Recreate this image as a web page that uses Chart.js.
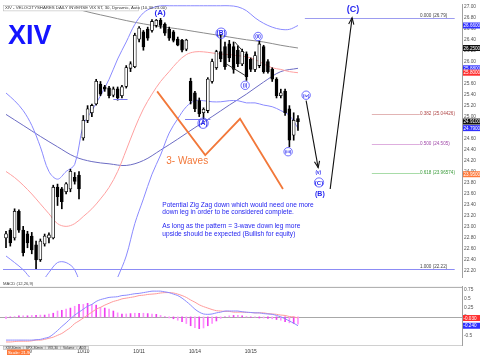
<!DOCTYPE html>
<html><head><meta charset="utf-8">
<script src="https://cdn.jsdelivr.net/npm/chart.js@4.4.1/dist/chart.umd.min.js"></script>
<style>
html,body{margin:0;padding:0;background:#fff;}
#wrap{position:relative;width:480px;height:358px;overflow:hidden;background:#fff}
canvas{position:absolute;left:0}
#c1{top:0}
#c2{top:282px}
</style></head><body>
<div id="wrap"><canvas id="c1" width="480" height="282"></canvas><canvas id="c2" width="480" height="76"></canvas></div>
<script>
// ---------- data (30-minute bars, index = bar number) ----------
const dayTicks  = [5, 18, 31, 44, 57];
const dayLabels = ['10/9', '10/10', '10/11', '10/14', '10/15'];
const priceTicks = [22.2,22.4,22.6,22.8,23.0,23.2,23.4,23.6,23.8,24.0,24.2,24.4,24.6,24.8,25.0,25.2,25.4,25.6,25.8,26.0,26.2,26.4,26.6,26.8,27.0];
const macdTicks = [0.75, 0.5, 0.25, 0, -0.25, -0.5];

const openP = [22.79,22.93,22.79,23.27,22.93,22.86,22.82,22.66,22.39,22.68,
  22.79,22.79,23.71,23.68,23.63,23.68,23.89,23.93,24.61,24.93,
  25.07,25.23,25.59,25.54,25.52,25.39,25.50,25.38,25.55,25.88,
  25.91,26.41,26.54,26.59,26.57,26.66,26.75,26.68,26.59,26.54,
  26.41,26.39,26.23,25.64,25.43,25.29,25.07,25.11,25.64,25.89,
  26.18,26.27,26.32,26.27,26.21,25.96,26.14,26.04,25.86,25.93,
  26.27,26.00,25.86,25.68,25.38,25.46,25.14,24.66,24.96];
const highP = [22.91,22.96,23.32,23.30,23.00,22.91,22.89,22.73,22.77,22.86,
  22.88,23.75,23.77,23.71,23.80,24.04,23.98,24.00,25.02,25.20,
  25.23,25.68,25.64,25.57,25.55,25.54,25.54,25.57,25.93,26.00,
  26.52,26.64,26.57,26.63,26.77,26.77,26.79,26.71,26.63,26.57,
  26.45,26.41,26.41,25.70,25.46,25.34,25.16,25.71,26.05,26.21,
  26.50,26.36,26.39,26.36,26.29,26.23,26.18,26.07,26.18,26.38,
  26.30,26.04,25.89,25.71,25.50,25.50,25.20,25.07,25.02];
const lowP = [22.61,22.64,22.75,22.89,22.46,22.61,22.50,22.21,22.36,22.64,
  22.70,22.77,23.38,23.32,23.59,23.63,23.77,23.50,24.57,24.89,
  25.00,25.21,25.38,25.46,25.34,25.36,25.30,25.34,25.52,25.82,
  25.89,26.36,26.21,26.39,26.54,26.63,26.61,26.48,26.39,26.36,
  26.29,26.18,26.20,25.23,25.09,25.00,24.96,25.07,25.61,25.86,
  26.00,25.86,26.00,25.79,25.91,25.93,25.66,25.82,25.82,25.89,
  25.79,25.79,25.64,25.34,25.34,25.02,24.45,24.57,24.75];
const closeP = [22.86,22.70,23.27,22.93,22.52,22.70,22.57,22.39,22.73,22.82,
  22.84,23.71,23.54,23.45,23.77,24.00,23.82,23.68,24.93,25.14,
  25.20,25.64,25.41,25.50,25.38,25.50,25.34,25.54,25.89,25.96,
  26.48,26.61,26.27,26.43,26.73,26.75,26.66,26.52,26.43,26.39,
  26.30,26.21,26.39,25.29,25.14,25.05,25.13,25.68,26.00,26.18,
  26.05,25.91,26.07,25.86,25.96,26.18,25.73,25.86,26.11,26.32,
  25.82,25.82,25.68,25.38,25.43,25.07,24.57,24.93,24.91];

// Bollinger bands (read every 2nd bar)
const bbIdx = [0,2,4,6,8,10,12,14,16,18,20,22,24,26,28,30,32,34,36,38,40,42,44,46,48,50,52,54,56,58,60,62,64,66,68];
const bbUpper = [25.43,25.29,25.11,24.84,24.45,24.00,23.86,24.00,24.13,24.84,25.11,25.38,25.68,26.05,26.36,26.68,26.89,26.98,27.02,27.02,27.02,27.02,27.02,27.02,27.02,27.02,27.02,27.00,26.93,26.80,26.70,26.63,26.59,26.59,26.66];
const bbMid = [24.00,23.89,23.75,23.59,23.41,23.23,23.05,23.00,23.05,23.18,23.32,23.50,23.71,24.00,24.39,24.79,25.14,25.41,25.64,25.82,26.00,26.13,26.18,26.18,26.16,26.14,26.13,26.11,26.09,26.04,25.96,25.89,25.86,25.82,25.80];
const bbLower = [22.46,22.34,22.21,22.04,21.98,22.16,22.34,22.34,22.21,21.80,21.63,21.54,21.71,22.07,22.46,23.05,23.50,23.95,24.30,24.70,24.96,25.18,25.29,25.29,25.27,25.27,25.29,25.29,25.25,25.25,25.21,25.18,25.11,25.02,24.79];
// longer moving averages (read every 4th bar)
const maIdx = [0,4,8,12,16,20,24,28,32,36,40,44,48,52,56,60,64,68];
const maGray = [27.29,27.21,27.13,27.05,26.97,26.89,26.82,26.75,26.69,26.64,26.60,26.55,26.50,26.45,26.40,26.36,26.30,26.25];
const maNavy = [25.04,24.84,24.64,24.45,24.27,24.18,24.14,24.11,24.20,24.39,24.59,24.80,25.00,25.21,25.41,25.63,25.82,25.88];

// MACD panel
const macdLine = [-0.63,-0.63,-0.63,-0.63,-0.63,-0.63,-0.63,-0.62,-0.61,-0.58,
  -0.55,-0.47,-0.37,-0.26,-0.16,-0.05,0.05,0.13,0.21,0.29,
  0.34,0.42,0.47,0.50,0.53,0.54,0.55,0.58,0.59,0.61,
  0.63,0.64,0.66,0.68,0.70,0.70,0.70,0.68,0.66,0.62,
  0.58,0.51,0.42,0.32,0.21,0.13,0.08,0.07,0.08,0.11,
  0.13,0.16,0.16,0.16,0.16,0.14,0.13,0.12,0.11,0.11,
  0.09,0.08,0.07,0.04,0.00,-0.05,-0.11,-0.17,-0.24];
const signalLine = [-0.68,-0.68,-0.67,-0.66,-0.66,-0.66,-0.65,-0.63,-0.63,-0.61,
  -0.58,-0.55,-0.50,-0.45,-0.37,-0.29,-0.18,-0.11,-0.03,0.05,
  0.13,0.21,0.26,0.32,0.37,0.42,0.45,0.49,0.51,0.53,
  0.55,0.58,0.59,0.61,0.62,0.63,0.65,0.66,0.66,0.65,
  0.62,0.58,0.53,0.46,0.40,0.33,0.28,0.24,0.20,0.17,
  0.16,0.15,0.15,0.13,0.13,0.13,0.12,0.12,0.11,0.11,
  0.11,0.09,0.08,0.07,0.05,0.04,0.01,0.00,-0.03];
const macdHist = [-0.05,-0.01,0.01,0.03,0.03,0.03,0.04,0.04,0.05,0.05,
  0.08,0.10,0.16,0.18,0.21,0.24,0.29,0.34,0.34,0.37,
  0.34,0.32,0.26,0.24,0.21,0.16,0.11,0.08,0.08,0.09,
  0.10,0.10,0.10,0.09,0.08,0.07,0.04,0.00,-0.03,-0.05,
  -0.09,-0.13,-0.18,-0.24,-0.29,-0.32,-0.30,-0.24,-0.18,-0.11,
  -0.04,0.00,0.03,0.04,0.04,0.03,0.01,-0.01,-0.01,-0.03,
  -0.03,-0.04,-0.05,-0.07,-0.09,-0.13,-0.16,-0.18,-0.20];

// Fibonacci retracement of the (A) high -> low
const fibHigh = 26.79, fibLow = 22.22;
const fibLevels = [0, 0.382, 0.5, 0.618, 1];
const fibLabels = ['0.000 (26.79)', '0.382 (25.04426)', '0.500 (24.505)', '0.618 (23.96574)', '1.000 (22.22)'];

// ---------- styling / layout ----------
const FONT = 'Arial, "Liberation Sans", sans-serif';
const X_MIN = -0.7, X_MAX = 106.2;
const BLUE_TXT = '#2626f0';
Chart.defaults.font.family = FONT;
Chart.defaults.animation = false;

const idx = openP.map((_, i) => i);
const wickData = idx.map(i => ({x: i, y: [lowP[i], highP[i]]}));
const bodyData = idx.map(i => ({x: i, y: [Math.min(openP[i], closeP[i]), Math.max(openP[i], closeP[i]) + 0.004]}));
const up = idx.map(i => closeP[i] >= openP[i]);
const pts = (xs, ys) => xs.map((x, k) => ({x, y: ys[k]}));
const lineDs = (label, data, color, w) => ({type: 'line', label, data, borderColor: color, borderWidth: w || 1,
  pointRadius: 0, tension: 0.35, fill: false});

function fixedW(w) { return s => { s.width = w; }; }

function valueBox(ctx, a, yPix, text, bg) {
  ctx.fillStyle = bg;
  ctx.fillRect(a.right + 1, yPix - 3, 17, 6);
  ctx.fillStyle = '#fff';
  ctx.font = '4.6px ' + FONT;
  ctx.textAlign = 'left'; ctx.textBaseline = 'middle';
  ctx.fillText(text, a.right + 1.5, yPix + 0.3);
}

function circ(ctx, x, y, t, r, fs) {
  ctx.beginPath(); ctx.arc(x, y, r, 0, Math.PI * 2);
  ctx.strokeStyle = '#4a4aff'; ctx.lineWidth = 0.8; ctx.stroke();
  ctx.fillStyle = BLUE_TXT; ctx.font = 'bold ' + fs + 'px ' + FONT;
  ctx.textAlign = 'center'; ctx.textBaseline = 'middle';
  ctx.fillText(t, x, y + 0.4);
}
function arrow(ctx, x1, y1, x2, y2) {
  ctx.strokeStyle = '#111'; ctx.lineWidth = 1.1;
  ctx.beginPath(); ctx.moveTo(x1, y1); ctx.lineTo(x2, y2); ctx.stroke();
  const ang = Math.atan2(y2 - y1, x2 - x1), L = 7, s = 0.38;
  ctx.beginPath();
  ctx.moveTo(x2 - L * Math.cos(ang - s), y2 - L * Math.sin(ang - s)); ctx.lineTo(x2, y2);
  ctx.lineTo(x2 - L * Math.cos(ang + s), y2 - L * Math.sin(ang + s));
  ctx.stroke();
}

const priceAnnot = {
  id: 'priceAnnot',
  afterDatasetsDraw(chart) {
    const {ctx, chartArea: a} = chart;
    const xs = chart.scales.x, ys = chart.scales.y;
    const X = v => xs.getPixelForValue(v), Y = v => ys.getPixelForValue(v);
    ctx.save();
    // Fibonacci lines
    const fibFrom = [69.6, 85.2, 85.2, 85.2, X_MIN], fibTo = [104.5, 96.4, 96.4, 96.4, 104.5];
    const fibLine = ['#9c9cf0', '#e2b4b4', '#deaede', '#a8dca8', '#8c8cf5'];
    const fibTxt = ['#444', '#b04848', '#a048a8', '#3c9c3c', '#444'];
    fibLevels.forEach((lv, k) => {
      const yy = Math.round(Y(fibHigh - lv * (fibHigh - fibLow))) + 0.5;
      ctx.strokeStyle = fibLine[k]; ctx.lineWidth = 1;
      ctx.beginPath(); ctx.moveTo(X(fibFrom[k]), yy); ctx.lineTo(X(fibTo[k]), yy); ctx.stroke();
      ctx.fillStyle = fibTxt[k]; ctx.font = '4.6px ' + FONT; ctx.textAlign = 'left'; ctx.textBaseline = 'middle';
      ctx.fillText(fibLabels[k], X(96.4), yy - ((k === 0 || k === 4) ? 2.5 : 1));
    });
    // short support lines under lows
    ctx.strokeStyle = '#7a7af0'; ctx.lineWidth = 1;
    [[25, 28.3, 25.32], [41.7, 47.6, 24.96]].forEach(s => {
      const yy = Math.round(Y(s[2])) + 0.5;
      ctx.beginPath(); ctx.moveTo(X(s[0]), yy); ctx.lineTo(X(s[1]), yy); ctx.stroke();
    });
    // orange 3-wave zigzag
    const zz = [[35.2, 25.46], [46.4, 24.30], [54.5, 24.96], [64.5, 23.68]];
    ctx.strokeStyle = '#f2783a'; ctx.lineWidth = 1.8; ctx.lineJoin = 'miter';
    ctx.beginPath(); zz.forEach((p, k) => k ? ctx.lineTo(X(p[0]), Y(p[1])) : ctx.moveTo(X(p[0]), Y(p[1]))); ctx.stroke();
    ctx.fillStyle = '#f2783a'; ctx.font = '10px ' + FONT; ctx.textAlign = 'center'; ctx.textBaseline = 'middle';
    ctx.fillText('3- Waves', X(42.2), Y(24.18));
    // black sub-wave trend lines
    ctx.strokeStyle = '#222'; ctx.lineWidth = 0.9;
    ctx.beginPath(); ctx.moveTo(X(51.3), Y(25.96)); ctx.lineTo(X(55.7), Y(25.75)); ctx.stroke();
    ctx.beginPath(); ctx.moveTo(X(53.3), Y(26.36)); ctx.lineTo(X(55.5), Y(26.16)); ctx.stroke();
    // arrows
    arrow(ctx, X(69.9), Y(25.29), X(72.7), Y(24.07));
    arrow(ctx, X(75.5), Y(23.68), X(80.6), Y(26.80));
    // wave labels
    ctx.fillStyle = BLUE_TXT; ctx.font = 'bold 8px ' + FONT; ctx.textAlign = 'center'; ctx.textBaseline = 'middle';
    ctx.fillText('(A)', X(35.9), Y(26.89));
    ctx.font = 'bold 9px ' + FONT;
    ctx.fillText('(C)', X(80.8), Y(26.95));
    circ(ctx, X(50.1), Y(26.52), '(B)', 5.2, 6.5);
    circ(ctx, X(45.9), Y(24.88), '(A)', 5.2, 6.5);
    circ(ctx, X(58.7), Y(26.46), '(ii)', 4.2, 4.5);
    circ(ctx, X(55.7), Y(25.57), '(i)', 4.2, 4.5);
    circ(ctx, X(65.7), Y(24.36), '(iii)', 4.2, 4.2);
    circ(ctx, X(69.9), Y(25.39), '(iv)', 4.2, 4.2);
    ctx.fillStyle = BLUE_TXT; ctx.font = 'bold 4.5px ' + FONT;
    ctx.fillText('(v)', X(72.7), Y(23.98));
    circ(ctx, X(72.9), Y(23.80), '(C)', 4.6, 6);
    ctx.fillStyle = BLUE_TXT; ctx.font = 'bold 7px ' + FONT;
    ctx.fillText('(B)', X(73.1), Y(23.59));
    // commentary text
    ctx.fillStyle = BLUE_TXT; ctx.font = '6.6px ' + FONT; ctx.textAlign = 'left'; ctx.textBaseline = 'alphabetic';
    const tx = X(36.4);
    ctx.fillText('Potential Zig Zag down which would need one more', tx, Y(23.36));
    ctx.fillText('down leg in order to be considered complete.', tx, Y(23.22));
    ctx.fillText('As long as the pattern = 3-wave down leg more', tx, Y(22.97));
    ctx.fillText('upside should be expected (Bullish for equity)', tx, Y(22.83));
    // big symbol
    ctx.fillStyle = '#1414ff'; ctx.font = 'bold 27px ' + FONT; ctx.textAlign = 'left';
    ctx.fillText('XIV', a.left + 5, Y(26.32));
    // header strip
    ctx.fillStyle = '#fff'; ctx.fillRect(a.left, a.top, 136, 6);
    ctx.strokeStyle = '#bbb'; ctx.lineWidth = 0.6; ctx.strokeRect(a.left + 0.5, a.top + 0.5, 135, 5.5);
    ctx.fillStyle = '#333'; ctx.font = '4.3px ' + FONT; ctx.textBaseline = 'middle';
    ctx.fillText('XIV - VELOCITYSHARES DAILY INVERSE VIX ST, 30, Dynamic, Auto (10.30.23.00)', a.left + 2, a.top + 3.4);
    // last-value boxes on the price axis
    const lastU = bbUpper[bbUpper.length - 1], lastM = bbMid[bbMid.length - 1], lastL = bbLower[bbLower.length - 1];
    const lastG = maGray[maGray.length - 1], lastN = maNavy[maNavy.length - 1], lastC = closeP[closeP.length - 1];
    valueBox(ctx, a, Y(lastU), lastU.toFixed(5), '#2f2fff');
    valueBox(ctx, a, Y(lastG), lastG.toFixed(5), '#111');
    valueBox(ctx, a, Y(lastN), lastN.toFixed(5), '#2f2fff');
    valueBox(ctx, a, Y(lastM), lastM.toFixed(5), '#ff3030');
    valueBox(ctx, a, Y(lastC), lastC.toFixed(5), '#111');
    valueBox(ctx, a, Y(lastL), lastL.toFixed(5), '#2f2fff');
    valueBox(ctx, a, Y(23.95), '23.95000', '#ff7a3a');
    ctx.restore();
  }
};

new Chart(document.getElementById('c1'), {
  type: 'bar',
  data: {
    datasets: [
      {label: 'body', data: bodyData, grouped: false, barThickness: 3,
        backgroundColor: idx.map(i => up[i] ? '#ffffff' : '#000000'), borderColor: '#000', borderWidth: 0.8, borderSkipped: false},
      {label: 'wick', data: wickData, grouped: false, barThickness: 1, backgroundColor: '#000', borderWidth: 0},
      lineDs('bbU', pts(bbIdx, bbUpper), '#8a8aff'),
      lineDs('bbL', pts(bbIdx, bbLower), '#8a8aff'),
      lineDs('bbM', pts(bbIdx, bbMid), '#ffa0a0'),
      lineDs('ma50', pts(maIdx, maNavy), '#6c6cc4'),
      lineDs('ma200', pts(maIdx, maGray), '#8c8c8c')
    ]
  },
  options: {
    responsive: false, devicePixelRatio: 1, animation: false,
    layout: {padding: {left: 3, top: 2, right: 0, bottom: 2}},
    plugins: {legend: {display: false}, tooltip: {enabled: false}},
    scales: {
      x: {type: 'linear', min: X_MIN, max: X_MAX, offset: false, display: false},
      y: {position: 'right', min: 22.075, max: 27.036,
        afterBuildTicks: s => { s.ticks = priceTicks.map(v => ({value: v})); },
        afterFit: fixedW(18),
        ticks: {font: {size: 4.8}, color: '#555', padding: 2, autoSkip: false, callback: v => Number(v).toFixed(2)},
        grid: {display: false, drawTicks: false},
        border: {display: true, color: '#a0a0a0'}}
    }
  },
  plugins: [priceAnnot]
});

const macdAnnot = {
  id: 'macdAnnot',
  beforeDatasetsDraw(chart) {
    const {ctx, chartArea: a} = chart;
    const Y = v => chart.scales.y.getPixelForValue(v);
    ctx.save();
    ctx.strokeStyle = '#a8a8a8'; ctx.lineWidth = 1;
    [a.top, Math.round(Y(0))].forEach(yy => { ctx.beginPath(); ctx.moveTo(a.left - 3, yy + 0.5); ctx.lineTo(a.right, yy + 0.5); ctx.stroke(); });
    ctx.strokeStyle = '#d0d0d0';
    ctx.beginPath(); ctx.moveTo(a.left - 3, a.bottom + 0.5); ctx.lineTo(a.right, a.bottom + 0.5); ctx.stroke();
    ctx.restore();
  },
  afterDraw(chart) {
    const {ctx, chartArea: a} = chart;
    const Y = v => chart.scales.y.getPixelForValue(v);
    ctx.save();
    ctx.fillStyle = '#444'; ctx.font = '4.2px ' + FONT; ctx.textAlign = 'left'; ctx.textBaseline = 'middle';
    ctx.fillText('MACD (12,26,9)', a.left, 1.5);
    const lm = macdLine[macdLine.length - 1], ls = signalLine[signalLine.length - 1];
    valueBox(ctx, a, Y(ls), ls.toFixed(3), '#ff3030');
    valueBox(ctx, a, Y(lm), lm.toFixed(3), '#2f2fff');
    // tab bar and scale tag under the panel
    const tabs = ['XIV,30min', 'SPX,30min', 'VIX,30', 'Volume', 'ADX'];
    let tx = a.left;
    ctx.font = '3.4px ' + FONT; ctx.textBaseline = 'middle';
    tabs.forEach(t => {
      const w = ctx.measureText(t).width + 5;
      ctx.fillStyle = '#e8e8e8'; ctx.fillRect(tx, a.bottom + 1, w, 3.6);
      ctx.strokeStyle = '#999'; ctx.lineWidth = 0.4; ctx.strokeRect(tx + 0.2, a.bottom + 1.2, w - 0.4, 3.3);
      ctx.fillStyle = '#333'; ctx.fillText(t, tx + 2.5, a.bottom + 2.9);
      tx += w;
    });
    ctx.fillStyle = '#ff7a3a'; ctx.fillRect(a.left + 4, a.bottom + 4.5, 23, 5.5);
    ctx.fillStyle = '#fff'; ctx.font = '4.3px ' + FONT; ctx.fillText('Scale: 21.90', a.left + 5, a.bottom + 7.4);
    ctx.restore();
  }
};

new Chart(document.getElementById('c2'), {
  type: 'bar',
  data: {
    datasets: [
      {type: 'line', label: 'MACD', data: pts(idx, macdLine), borderColor: '#8a8aff', borderWidth: 1, pointRadius: 0, tension: 0.3},
      {type: 'line', label: 'Signal', data: pts(idx, signalLine), borderColor: '#ff9a9a', borderWidth: 1, pointRadius: 0, tension: 0.3},
      {label: 'Hist', data: pts(idx, macdHist), barThickness: 1, grouped: false,
        backgroundColor: idx.map(i => (i % 2) ? '#f040f0' : '#ff90ff')}
    ]
  },
  options: {
    responsive: false, devicePixelRatio: 1, animation: false,
    layout: {padding: {left: 3, top: 3, right: 0, bottom: 0}},
    plugins: {legend: {display: false}, tooltip: {enabled: false}},
    scales: {
      x: {type: 'linear', min: X_MIN, max: X_MAX, offset: false,
        afterBuildTicks: s => { s.ticks = dayTicks.map(v => ({value: v})); },
        afterFit: s => { s.height = 13; },
        ticks: {font: {size: 4.8}, color: '#333', padding: 4, maxRotation: 0, autoSkip: false,
          callback: v => dayLabels[dayTicks.indexOf(v)]},
        grid: {display: false, drawTicks: false}, border: {display: false}},
      y: {position: 'right', min: -0.763, max: 0.816,
        afterBuildTicks: s => { s.ticks = macdTicks.map(v => ({value: v})); },
        afterFit: fixedW(18),
        ticks: {font: {size: 4.8}, color: '#555', padding: 2, autoSkip: false, callback: v => String(v)},
        grid: {display: false, drawTicks: false},
        border: {display: true, color: '#a0a0a0'}}
    }
  },
  plugins: [macdAnnot]
});
</script>
</body></html>
